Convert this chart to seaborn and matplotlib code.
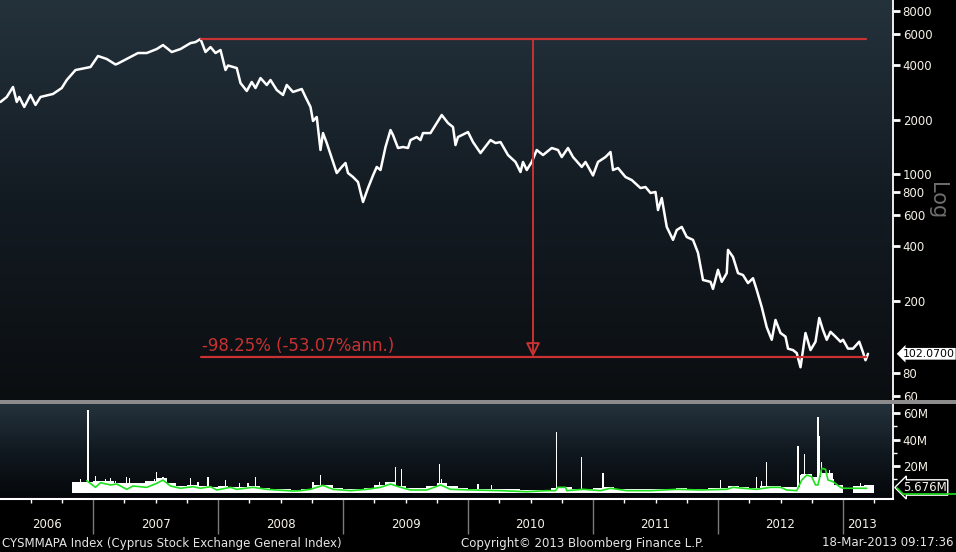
import numpy as np
import pandas as pd
import matplotlib
matplotlib.use("Agg")
import matplotlib.pyplot as plt
import seaborn as sns
from matplotlib import transforms
from matplotlib.colors import LinearSegmentedColormap
from matplotlib.ticker import FixedLocator, FixedFormatter, NullLocator
from matplotlib.lines import Line2D
from matplotlib.patches import Rectangle

# ---------------- data ----------------
price_t = [2006.26, 2006.31, 2006.36, 2006.39, 2006.41, 2006.45, 2006.50, 2006.54, 2006.58, 2006.68,
           2006.75, 2006.79, 2006.86, 2006.98, 2007.04, 2007.11, 2007.18, 2007.20, 2007.30, 2007.36,
           2007.43, 2007.51, 2007.56, 2007.63, 2007.70, 2007.78, 2007.82, 2007.86, 2007.90, 2007.94,
           2007.98, 2008.02, 2008.06, 2008.08, 2008.15, 2008.18, 2008.23, 2008.27, 2008.30, 2008.34,
           2008.39, 2008.42, 2008.47, 2008.52, 2008.55, 2008.60, 2008.67, 2008.70, 2008.74, 2008.76,
           2008.79, 2008.82, 2008.84, 2008.87, 2008.95, 2008.99, 2009.02, 2009.04, 2009.08, 2009.12,
           2009.16, 2009.20, 2009.24, 2009.27, 2009.30, 2009.34, 2009.38, 2009.40, 2009.44, 2009.48,
           2009.52, 2009.54, 2009.59, 2009.62, 2009.64, 2009.70, 2009.74, 2009.79, 2009.84, 2009.88,
           2009.90, 2009.92, 2010.00, 2010.04, 2010.10, 2010.18, 2010.22, 2010.26, 2010.32, 2010.38,
           2010.42, 2010.44, 2010.47, 2010.51, 2010.55, 2010.60, 2010.67, 2010.72, 2010.75, 2010.80,
           2010.84, 2010.91, 2010.94, 2011.00, 2011.04, 2011.10, 2011.14, 2011.16, 2011.20, 2011.26,
           2011.31, 2011.38, 2011.42, 2011.46, 2011.50, 2011.52, 2011.55, 2011.59, 2011.64, 2011.67,
           2011.71, 2011.75, 2011.80, 2011.84, 2011.88, 2011.94, 2011.96, 2012.00, 2012.03, 2012.07,
           2012.08, 2012.12, 2012.16, 2012.20, 2012.24, 2012.28, 2012.31, 2012.35, 2012.39, 2012.43,
           2012.46, 2012.50, 2012.54, 2012.56, 2012.60, 2012.63, 2012.66, 2012.70, 2012.74, 2012.78,
           2012.81, 2012.84, 2012.87, 2012.90, 2012.94, 2012.98, 2013.00, 2013.04, 2013.08, 2013.13,
           2013.16, 2013.18, 2013.20]
price_v = [2515, 2680, 3043, 2515, 2680, 2360, 2749, 2421, 2680, 2784,
           3003, 3325, 3776, 3923, 4513, 4345, 4051, 4103, 4456, 4688,
           4688, 4932, 5188, 4748, 4932, 5320, 5388, 5602, 4748, 5058,
           4688, 4870, 3776, 4000, 3872, 3200, 2892, 3242, 3003, 3409,
           3121, 3325, 2929, 2749, 3121, 2856, 2966, 2680, 2360, 1975,
           2077, 1365, 1693, 1491, 1018, 1100, 1157, 1018, 968, 908,
           704, 841, 987, 1100, 1058, 1418, 1759, 1651, 1400, 1418,
           1400, 1549, 1609, 1549, 1693, 1693, 1875, 2130, 1923, 1828,
           1454, 1610, 1715, 1510, 1313, 1549, 1491, 1510, 1280, 1172,
           1031, 1172, 1058, 1172, 1365, 1280, 1400, 1365, 1248, 1400,
           1248, 1100, 1172, 987, 1172, 1248, 1331, 1058, 1085, 968,
           931, 841, 852, 790, 800, 636, 741, 513, 435, 493,
           513, 451, 435, 369, 261, 255, 233, 297, 255, 285,
           383, 350, 285, 278, 251, 267, 230, 185, 143, 122,
           157, 133, 127, 109, 107, 103, 86, 133, 107, 119,
           161, 138, 122, 135, 127, 119, 122, 109, 109, 119,
           104, 94, 102.07]

# monthly volume (millions), Nov 2006 .. Mar 2013
vol_start = "2006-11"
vol_month = [8, 8,
             9, 9, 7, 7, 7, 9, 11, 7, 5, 6, 5, 4,
             5, 4.5, 4, 5, 3.5, 3, 2.5, 2, 3, 5.5, 6, 3.5,
             2.5, 2.5, 3.5, 6, 8, 5, 3.5, 3.5, 5, 7, 5, 3.5,
             3, 3, 3, 2.5, 2.5, 2, 2, 2, 3.5, 4.5, 3, 3,
             3.5, 4, 3, 2.5, 2.5, 2.5, 2.5, 3, 3.5, 3, 3, 3.5,
             3.5, 5, 4.5, 3.5, 5, 5, 4, 4.5, 14, 12, 15, 6,
             0, 5, 6]
spike_t = [2006.90, 2006.96, 2007.02, 2007.06, 2007.10, 2007.14, 2007.18, 2007.27, 2007.29, 2007.45,
           2007.49, 2007.51, 2007.56, 2007.59, 2007.78, 2007.84, 2007.92, 2008.06, 2008.17, 2008.24,
           2008.30, 2008.76, 2008.82, 2009.29, 2009.42, 2009.47, 2009.77, 2009.79, 2010.08, 2010.19,
           2010.71, 2010.91, 2011.08, 2012.02, 2012.31, 2012.35, 2012.39, 2012.64, 2012.66, 2012.69,
           2012.71, 2012.80, 2012.81, 2012.83, 2012.89, 2012.92, 2013.14]
spike_v = [10, 62, 12.5, 9, 10, 11, 9, 12, 11, 9,
           10, 15.7, 12, 11, 11, 8, 12, 9.4, 7, 7,
           11.5, 8, 13, 8, 19.5, 18, 21.5, 10, 6.4, 6,
           46, 26.5, 14.5, 9.4, 11.5, 8.5, 23, 35, 13, 29,
           11, 57, 43, 23, 17, 10, 7]
ma_t = [2006.95, 2007.02, 2007.06, 2007.14, 2007.19, 2007.27, 2007.32, 2007.43, 2007.51, 2007.56,
        2007.62, 2007.70, 2007.80, 2007.86, 2007.94, 2007.99, 2008.10, 2008.15, 2008.28, 2008.39,
        2008.60, 2008.66, 2008.74, 2008.84, 2008.92, 2009.06, 2009.19, 2009.30, 2009.38, 2009.46,
        2009.54, 2009.67, 2009.78, 2009.86, 2010.04, 2010.26, 2010.47, 2010.63, 2010.70, 2010.72,
        2010.78, 2010.79, 2010.92, 2011.06, 2011.14, 2011.27, 2011.46, 2011.67, 2011.86, 2012.07,
        2012.12, 2012.20, 2012.31, 2012.42, 2012.50, 2012.55, 2012.63, 2012.67, 2012.71, 2012.75,
        2012.78, 2012.80, 2012.83, 2012.86, 2012.88, 2012.92, 2012.98, 2013.00, 2013.19]
ma_v = [8.9, 3.9, 7.4, 5.7, 6.4, 2.4, 4.9, 3.9, 6.9, 9.4,
        4.9, 3.2, 4.4, 3.2, 4.4, 1.9, 3.9, 2.4, 3.9, 2.4,
        1.1, 1.4, 2.4, 5.4, 2.4, 1.4, 2.4, 3.9, 6.4, 3.9,
        1.9, 1.9, 5.7, 2.4, 1.9, 1.4, 0.6, 1.4, 1.4, 3.9,
        3.9, 1.4, 2.4, 1.4, 3.2, 1.4, 1.4, 2.4, 1.9, 2.4,
        3.9, 3.2, 2.4, 3.9, 3.9, 1.9, 1.4, 9.4, 13.2, 11.9,
        5.7, 5.7, 18.3, 17.5, 9.4, 8.2, 3.9, 3.2, 3.2]

price_ticks = [60, 80, 200, 400, 600, 800, 1000, 2000, 4000, 6000, 8000]
vol_ticks = [20, 40, 60]
vol_tick_labels = ["20M", "40M", "60M"]
years = [2006, 2007, 2008, 2009, 2010, 2011, 2012, 2013]
year_label_pos = [2006.63, 2007.5, 2008.5, 2009.5, 2010.5, 2011.5, 2012.5, 2013.15]

peak_date, peak_val = 2007.86, 5602
end_date = 2013.18
drop_pct, ann_pct = -98.25, -53.07
last_price = 102.07
last_vol_label = "5.676M"

# ---------------- plot ----------------
sns.set_theme(style="dark")
plt.rcParams['font.family'] = ['DejaVu Sans']
plt.rcParams['axes.unicode_minus'] = False

W, H = 956, 552
fig = plt.figure(figsize=(W / 100, H / 100), dpi=100, facecolor='black')


def box(x0, y0, x1, y1):
    return [x0 / W, 1 - y1 / H, (x1 - x0) / W, (y1 - y0) / H]


grad = np.linspace(0, 1, 256).reshape(-1, 1)
cm_top = LinearSegmentedColormap.from_list('t', ['#0b0e11', '#131b22', '#24323c'])
cm_bot = LinearSegmentedColormap.from_list('b', ['#05070a', '#111920', '#24323c'])
for rect, cm in ((box(0, 0, 893, 400), cm_top), (box(0, 404, 893, 499), cm_bot)):
    b = fig.add_axes(rect, zorder=0)
    b.imshow(grad, cmap=cm, aspect='auto', origin='lower', extent=[0, 1, 0, 1])
    b.set_axis_off()

ax = fig.add_axes(box(0, 0, 893, 400), zorder=1)
axv = fig.add_axes(box(0, 404, 893, 499), zorder=1)
for a in (ax, axv):
    a.set_facecolor('none')
    a.grid(False)
    for s in ('left', 'top'):
        a.spines[s].set_visible(False)
    a.spines['right'].set_color('white')
    a.spines['right'].set_linewidth(1.3)

fig.add_artist(Rectangle((0, 1 - 404 / H), 1, 4 / H, transform=fig.transFigure,
                         facecolor='#8c8c8c', edgecolor='none', zorder=5))

xlo, xhi = 2006.256, 2006.256 + 893 / 125

# price line
sns.lineplot(x=price_t, y=price_v, ax=ax, color='white', lw=1.8, sort=False, zorder=3)
ax.set_yscale('log')
ax.set_xlim(xlo, xhi)
ax.set_ylim(56.7, 9204)
ax.spines['bottom'].set_visible(False)
ax.set_xticks([])
ax.set_xlabel('')
ax.set_ylabel('')
ax.yaxis.set_major_locator(FixedLocator(price_ticks))
ax.yaxis.set_major_formatter(FixedFormatter([str(v) for v in price_ticks]))
ax.yaxis.set_minor_locator(NullLocator())
ax.yaxis.tick_right()
ax.tick_params(axis='y', which='major', right=True, left=False, labelright=True, labelleft=False,
               direction='out', length=5, width=2, color='white', labelcolor='#f6f2e8',
               labelsize=8.5, pad=2)

# drawdown annotation
red = '#c83232'
low_val = peak_val * (1 + drop_pct / 100)
ax.plot([peak_date, end_date], [peak_val, peak_val], color=red, lw=1.6, zorder=4)
ax.plot([peak_date, end_date], [low_val, low_val], color=red, lw=1.6, zorder=4)
mid = (peak_date + end_date) / 2
ax.annotate('', xy=(mid, low_val), xytext=(mid, peak_val),
            arrowprops=dict(arrowstyle='-|>,head_length=0.7,head_width=0.35',
                            edgecolor=red, facecolor=(0, 0, 0, 0), lw=1.4,
                            shrinkA=0, shrinkB=0), zorder=4)
ax.annotate(f"{drop_pct:.2f}% ({ann_pct:.2f}%ann.)", xy=(peak_date, low_val),
            xytext=(1, 1.5), textcoords='offset points', color=red, fontsize=12,
            ha='left', va='bottom', zorder=4)

blend = transforms.blended_transform_factory(ax.transAxes, ax.transData)
ax.text(1.011, last_price, f"{last_price:.4f}", transform=blend, ha='left', va='center',
        color='black', fontsize=7.8, clip_on=False, zorder=6,
        bbox=dict(boxstyle='larrow,pad=0.08', fc='white', ec='none'))
fig.text(937 / W, 1 - 201 / H, "Log", rotation=270, color='#6e6e6e', fontsize=15,
         ha='center', va='center')

# volume panel
vol_dates = pd.date_range(vol_start, periods=len(vol_month), freq='MS')
vol_x = [d.year + (d.month - 1) / 12 for d in vol_dates]
axv.bar(vol_x, vol_month, width=1 / 12, align='edge', color='white', linewidth=0, zorder=2)
axv.bar(spike_t, spike_v, width=0.01, color='white', linewidth=0, zorder=2)
sns.lineplot(x=ma_t, y=ma_v, ax=axv, color='#1fe01f', lw=1.2, sort=False, zorder=3)
axv.set_xlim(xlo, xhi)
axv.set_ylim(-4.9, 66.8)
axv.set_xlabel('')
axv.set_ylabel('')
axv.spines['bottom'].set_color('white')
axv.spines['bottom'].set_linewidth(1.5)
axv.yaxis.tick_right()
axv.yaxis.set_major_locator(FixedLocator(vol_ticks))
axv.yaxis.set_major_formatter(FixedFormatter(vol_tick_labels))
axv.yaxis.set_minor_locator(FixedLocator([10, 30, 50]))
axv.tick_params(axis='y', which='major', right=True, left=False, labelright=True, labelleft=False,
                direction='out', length=5, width=2, color='white', labelcolor='#f6f2e8',
                labelsize=8.5, pad=2)
axv.tick_params(axis='y', which='minor', right=True, left=False, direction='out', length=3,
                width=1, color='white')
axv.xaxis.set_major_locator(FixedLocator(years[1:]))
axv.xaxis.set_minor_locator(FixedLocator([y + q for y in years for q in (0.25, 0.5, 0.75)]))
axv.tick_params(axis='x', which='major', bottom=True, direction='out', length=25, width=1,
                color='#7a7a7a', labelbottom=False)
axv.tick_params(axis='x', which='minor', bottom=True, direction='out', length=3, width=1,
                color='white')
bx = transforms.blended_transform_factory(axv.transData, axv.transAxes)
for y, p in zip(years, year_label_pos):
    axv.text(p, -0.265, str(y), transform=bx, ha='center', va='center', color='#f6f2e8',
             fontsize=8.5, clip_on=False)
bv = transforms.blended_transform_factory(axv.transAxes, axv.transData)
axv.text(1.011, 3.8, last_vol_label, transform=bv, ha='left', va='center', color='#f6f2e8',
         fontsize=8.5, clip_on=False, zorder=6,
         bbox=dict(boxstyle='larrow,pad=0.1', fc='black', ec='white', lw=1))
fig.add_artist(Line2D([897 / W, 903 / W, 1.0], [1 - 488 / H, 1 - 494 / H, 1 - 494 / H],
                      transform=fig.transFigure, color='#1fe01f', lw=1.2))

# footer
fig.text(2 / W, 1 - 543 / H, "CYSMMAPA Index (Cyprus Stock Exchange General Index)",
         ha='left', va='center', color='#e6e6e6', fontsize=8.5)
fig.text(582 / W, 1 - 543 / H, "Copyright\u00a9 2013 Bloomberg Finance L.P.",
         ha='center', va='center', color='#e6e6e6', fontsize=8.5)
fig.text(954 / W, 1 - 543 / H, "18-Mar-2013 09:17:36", ha='right', va='center',
         color='#e6e6e6', fontsize=8.5)

fig.savefig("out.png", dpi=100, facecolor='black')
